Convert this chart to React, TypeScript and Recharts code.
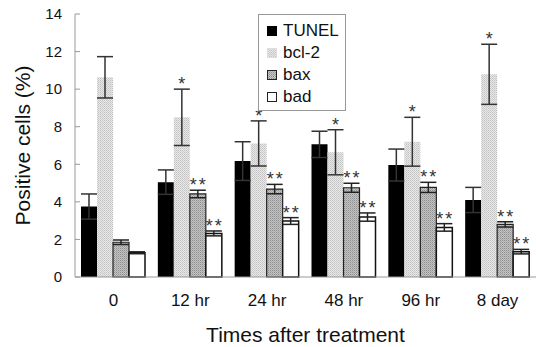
import { BarChart, Bar, XAxis, YAxis, ErrorBar, LabelList, Legend } from "recharts"

const categories = ["0", "12 hr", "24 hr", "48 hr", "96 hr", "8 day"]

const tunel = [3.75, 5.05, 6.17, 7.06, 5.96, 4.1]
const tunelErr = [0.67, 0.65, 1.03, 0.7, 0.85, 0.67]
const bcl2 = [10.63, 8.5, 7.11, 6.64, 7.2, 10.79]
const bcl2Err = [1.1, 1.5, 1.2, 1.2, 1.3, 1.6]
const bax = [1.85, 4.42, 4.68, 4.75, 4.77, 2.8]
const baxErr = [0.12, 0.2, 0.25, 0.24, 0.27, 0.14]
const bad = [1.29, 2.32, 2.98, 3.19, 2.64, 1.35]
const badErr = [0.05, 0.13, 0.18, 0.22, 0.2, 0.12]

const bcl2Sig = ["", "*", "*", "*", "*", "*"]
const baxSig = ["", "**", "**", "**", "**", "**"]
const badSig = ["", "**", "**", "**", "**", "**"]

const yTicks = [0, 2, 4, 6, 8, 10, 12, 14]
const boundaryTicks = [1, 2, 3, 4, 5, 6]

const data = categories.map((c, i) => ({
  cat: c,
  tunel: tunel[i],
  tunelErr: tunelErr[i],
  bcl2: bcl2[i],
  bcl2Err: bcl2Err[i],
  bax: bax[i],
  baxErr: baxErr[i],
  bad: bad[i],
  badErr: badErr[i],
}))

const FONT = "'Liberation Sans', Arial, sans-serif"

const legendItems = [
  { name: "TUNEL", fill: "#000", stroke: "#000" },
  { name: "bcl-2", fill: "url(#bcl2Pat)", stroke: "#ddd" },
  { name: "bax", fill: "url(#baxPat)", stroke: "#222" },
  { name: "bad", fill: "#fff", stroke: "#222" },
]

function starLabel(values: number[], errs: number[], sig: string[]) {
  return (props: any) => {
    const { x, y, width, height, index } = props
    const s = sig[index]
    if (!s) return null
    const pxPerUnit = height / values[index]
    const capY = y - errs[index] * pxPerUnit
    return (
      <text
        x={x + width / 2 + 1}
        y={capY + 1}
        textAnchor="middle"
        fontSize={18}
        letterSpacing={2}
        fill="#333"
        fontFamily={FONT}
      >
        {s}
      </text>
    )
  }
}

function LegendBox() {
  return (
    <div
      style={{
        border: "1px solid #999",
        background: "#fff",
        padding: "5px 6px 2px 8px",
        fontFamily: FONT,
        fontSize: 17,
        color: "#111",
        lineHeight: "22px",
      }}
    >
      {legendItems.map((it) => (
        <div key={it.name} style={{ display: "flex", alignItems: "center" }}>
          <svg width={10} height={10} style={{ marginRight: 6 }}>
            <rect x={0.5} y={0.5} width={9} height={9} fill={it.fill} stroke={it.stroke} />
          </svg>
          {it.name}
        </div>
      ))}
    </div>
  )
}

export default function App() {
  return (
    <div style={{ position: "absolute", left: 0, top: 0, width: 536, height: 347, background: "#fff" }}>
      <BarChart
        width={536}
        height={347}
        data={data}
        margin={{ top: 14, right: 0, left: 0, bottom: 0 }}
        barCategoryGap={6}
        barGap={0}
      >
        <defs>
          <pattern id="bcl2Pat" width={2} height={2} patternUnits="userSpaceOnUse">
            <rect width={2} height={2} fill="#e8e8e8" />
            <rect width={1} height={1} fill="#c2c2c2" />
            <rect x={1} y={1} width={1} height={1} fill="#cfcfcf" />
          </pattern>
          <pattern id="baxPat" width={2} height={2} patternUnits="userSpaceOnUse">
            <rect width={2} height={2} fill="#c4c4c4" />
            <rect width={1} height={1} fill="#8e8e8e" />
            <rect x={1} y={1} width={1} height={1} fill="#a8a8a8" />
          </pattern>
        </defs>
        <XAxis
          xAxisId="bound"
          type="number"
          domain={[0, 6]}
          ticks={boundaryTicks}
          tick={false}
          axisLine={false}
          tickSize={-5}
          height={0}
          tickLine={{ stroke: "#888" }}
        />
        <XAxis
          dataKey="cat"
          height={70}
          tickLine={false}
          tickSize={0}
          tickMargin={17}
          axisLine={{ stroke: "#999" }}
          tick={{ fontSize: 17, fill: "#111", fontFamily: FONT }}
          label={(p: any) => {
            const vb = p.viewBox
            return (
              <text
                x={vb.x + vb.width / 2}
                y={342}
                textAnchor="middle"
                fontSize={21}
                fill="#111"
                fontFamily={FONT}
              >
                Times after treatment
              </text>
            )
          }}
        />
        <YAxis
          width={75}
          domain={[0, 14]}
          ticks={yTicks}
          tickSize={-5}
          tickMargin={18}
          axisLine={{ stroke: "#999" }}
          tickLine={{ stroke: "#999" }}
          tick={{ fontSize: 15, fill: "#111", fontFamily: FONT }}
          label={(p: any) => {
            const vb = p.viewBox
            const cy = vb.y + vb.height / 2
            return (
              <text
                x={24}
                y={cy}
                transform={`rotate(-90, 24, ${cy})`}
                textAnchor="middle"
                dominantBaseline="middle"
                fontSize={21}
                fill="#111"
                fontFamily={FONT}
              >
                Positive cells (%)
              </text>
            )
          }}
        />
        <Legend
          layout="vertical"
          align="center"
          verticalAlign="middle"
          wrapperStyle={{ left: 258, top: 14, width: "auto" }}
          content={() => <LegendBox />}
        />
        <Bar dataKey="tunel" name="TUNEL" fill="#000" isAnimationActive={false}>
          <ErrorBar dataKey="tunelErr" width={8} strokeWidth={1.5} stroke="#333" direction="y" />
        </Bar>
        <Bar dataKey="bcl2" name="bcl-2" fill="url(#bcl2Pat)" isAnimationActive={false}>
          <ErrorBar dataKey="bcl2Err" width={8} strokeWidth={1.5} stroke="#333" direction="y" />
          <LabelList dataKey="bcl2" content={starLabel(bcl2, bcl2Err, bcl2Sig)} />
        </Bar>
        <Bar dataKey="bax" name="bax" fill="url(#baxPat)" stroke="#222" strokeWidth={1.2} isAnimationActive={false}>
          <ErrorBar dataKey="baxErr" width={8} strokeWidth={1.5} stroke="#222" direction="y" />
          <LabelList dataKey="bax" content={starLabel(bax, baxErr, baxSig)} />
        </Bar>
        <Bar dataKey="bad" name="bad" fill="#fff" stroke="#111" strokeWidth={1.5} isAnimationActive={false}>
          <ErrorBar dataKey="badErr" width={8} strokeWidth={1.5} stroke="#222" direction="y" />
          <LabelList dataKey="bad" content={starLabel(bad, badErr, badSig)} />
        </Bar>
      </BarChart>
    </div>
  )
}
